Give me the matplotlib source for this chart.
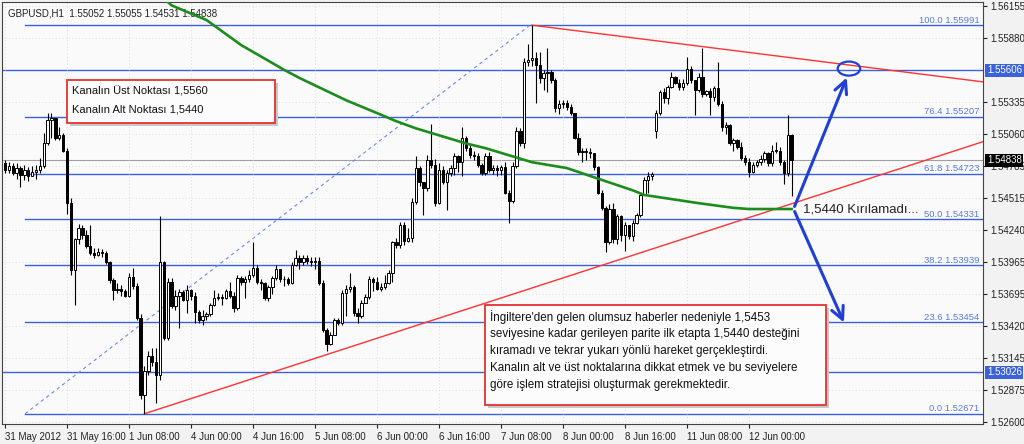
import numpy as np
import matplotlib.pyplot as plt
from matplotlib.patches import Rectangle, Ellipse
from matplotlib.transforms import blended_transform_factory

# GBPUSD H1 bars, prices in pips above 1.5000
close_p = [475, 479, 473, 477, 471, 475, 470, 474, 475, 479,
           498, 518, 520, 503, 505, 492, 447, 390, 416, 426,
           420, 410, 404, 403, 405, 404, 397, 381, 373, 374,
           372, 368, 384, 376, 349, 283, 304, 316, 311, 300,
           397, 332, 380, 359, 368, 371, 364, 373, 368, 354,
           347, 351, 352, 360, 366, 367, 366, 372, 368, 357,
           383, 380, 382, 386, 392, 380, 379, 366, 375, 383,
           391, 382, 382, 379, 394, 400, 397, 400, 398, 397,
           398, 379, 339, 327, 334, 347, 345, 370, 374, 375,
           353, 351, 362, 367, 382, 380, 374, 375, 379, 387,
           414, 411, 428, 415, 417, 448, 477, 465, 460, 484,
           480, 447, 475, 465, 473, 477, 487, 482, 503, 494,
           488, 487, 480, 473, 487, 475, 477, 475, 478, 456,
           449, 479, 509, 498, 568, 569, 571, 565, 554, 558,
           559, 552, 528, 532, 533, 529, 524, 503, 491, 492,
           491, 490, 478, 456, 443, 414, 442, 416, 436, 420,
           428, 419, 430, 437, 454, 467, 470, 472, 524, 542,
           537, 546, 555, 550, 546, 550, 562, 552, 544, 555,
           540, 543, 538, 545, 532, 512, 514, 498, 501, 495,
           486, 482, 474, 480, 482, 485, 490, 481, 492, 492,
           482, 473, 505, 484]
high_p = [484, 482, 481, 481, 479, 480, 478, 479, 480, 486,
          507, 524, 524, 520, 512, 507, 494, 451, 417, 429,
          428, 424, 428, 409, 409, 408, 406, 398, 383, 379,
          377, 374, 387, 392, 379, 352, 308, 321, 323, 323,
          436, 398, 383, 383, 373, 374, 373, 377, 374, 371,
          356, 356, 354, 362, 373, 370, 369, 374, 380, 371,
          386, 385, 385, 390, 414, 394, 382, 380, 377, 385,
          394, 391, 385, 384, 397, 407, 403, 403, 403, 401,
          401, 401, 381, 340, 337, 349, 349, 373, 377, 387,
          377, 357, 364, 369, 385, 384, 384, 379, 386, 390,
          415, 417, 431, 431, 426, 451, 487, 479, 465, 488,
          515, 485, 481, 479, 475, 480, 490, 488, 512, 504,
          497, 492, 490, 481, 490, 491, 480, 480, 480, 482,
          458, 482, 512, 511, 571, 583, 599, 576, 576, 561,
          580, 561, 554, 535, 535, 535, 532, 524, 507, 494,
          494, 494, 490, 479, 458, 445, 446, 447, 438, 437,
          431, 428, 433, 439, 455, 469, 474, 474, 527, 544,
          545, 548, 559, 556, 553, 553, 572, 564, 552, 558,
          580, 544, 545, 547, 568, 534, 516, 515, 503, 502,
          499, 488, 486, 482, 484, 488, 492, 491, 497, 499,
          495, 484, 522, 506]
low_p = [473, 473, 471, 468, 461, 467, 466, 470, 468, 473,
         477, 497, 503, 501, 501, 491, 438, 386, 360, 412,
         416, 409, 403, 400, 402, 401, 395, 379, 364, 370,
         368, 367, 367, 374, 347, 280, 267, 300, 308, 276,
         296, 330, 330, 357, 356, 340, 363, 353, 364, 345,
         345, 343, 347, 351, 359, 364, 360, 365, 366, 354,
         356, 377, 366, 380, 384, 378, 373, 364, 363, 369,
         381, 380, 376, 377, 378, 393, 391, 394, 395, 393,
         391, 377, 337, 321, 326, 334, 343, 343, 351, 371,
         351, 345, 349, 362, 365, 372, 373, 372, 374, 378,
         380, 409, 409, 411, 414, 414, 446, 462, 437, 457,
         477, 445, 446, 463, 441, 470, 471, 474, 470, 492,
         486, 484, 478, 471, 471, 474, 472, 470, 471, 455,
         430, 447, 477, 496, 494, 564, 564, 533, 550, 544,
         542, 550, 525, 523, 528, 527, 522, 502, 488, 482,
         484, 486, 475, 455, 441, 405, 412, 413, 412, 415,
         406, 416, 415, 429, 435, 454, 456, 467, 503, 522,
         533, 532, 545, 549, 544, 544, 548, 550, 522, 542,
         538, 539, 522, 534, 530, 509, 506, 497, 492, 493,
         484, 480, 469, 473, 478, 480, 482, 479, 479, 490,
         480, 463, 470, 453]
first_open = 481
week_open_bar, week_open = 168, 509   # monday gap

# moving average (green), sampled vertices
ma_bar = [40, 43, 52, 61, 72, 76, 88, 96, 101, 106, 110, 119, 124, 132, 136,
          145, 153, 162, 165, 171, 179, 188, 192, 203]
ma_p = [625, 616, 603.5, 582, 561, 554, 535, 524, 517, 511, 507, 498, 494, 486,
        482, 477, 468, 458, 454, 451, 447, 443, 442, 442]

# fibonacci retracement
fib_anchor_bar = [5.2, 135.5]
fib_anchor_px = [1.52671, 1.55991]
fib_pct = [0.0, 23.6, 38.2, 50.0, 61.8, 76.4, 100.0]
fib_px = [1.52671, 1.53454, 1.53939, 1.54331, 1.54723, 1.55207, 1.55991]

# channel lines (red)
up_bar, up_px = [136, 253], [1.55991, 1.55504]
lo_bar, lo_px = [36, 253], [1.52671, 1.55002]

hlines = [1.55606, 1.53026]
bid = 1.54838

ytick_vals = [1.52600, 1.52875, 1.53145, 1.53420, 1.53695, 1.53965, 1.54240,
              1.54515, 1.54785, 1.55060, 1.55335, 1.55880, 1.56155]
xtick_bars = [0, 16, 32, 48, 64, 80, 96, 112, 128, 144, 160, 176, 192]
xtick_labels = ["31 May 2012", "31 May 16:00", "1 Jun 08:00", "4 Jun 00:00",
                "4 Jun 16:00", "5 Jun 08:00", "6 Jun 00:00", "6 Jun 16:00",
                "7 Jun 08:00", "8 Jun 00:00", "8 Jun 16:00", "11 Jun 08:00",
                "12 Jun 00:00"]

arrow_from = (203.5, 1.5442)
arrow_up = (217.5, 1.55565)
arrow_down = (216.8, 1.53429)
circle_at = (217.8, 1.5562)

box1_lines = ["Kanalın Üst Noktası 1,5560", "Kanalın Alt Noktası 1,5440"]
box2_lines = ["İngiltere'den gelen olumsuz haberler nedeniyle 1,5453",
              "seviyesine kadar gerileyen parite ilk etapta 1,5440 desteğini",
              "kıramadı ve tekrar yukarı yönlü hareket gerçekleştirdi.",
              "Kanalın alt ve üst noktalarına dikkat etmek ve bu seviyelere",
              "göre işlem stratejisi oluşturmak gerekmektedir."]

plt.rcParams['font.family'] = ['Liberation Sans', 'DejaVu Sans']

close = 1.5 + np.array(close_p) / 1e4
high = 1.5 + np.array(high_p) / 1e4
low = 1.5 + np.array(low_p) / 1e4
opens = np.r_[1.5 + first_open / 1e4, close[:-1]]
opens[week_open_bar] = 1.5 + week_open / 1e4
bars = np.arange(len(close))

fig = plt.figure(figsize=(10.24, 4.44), dpi=100, facecolor='#f2f2f2')
ax = fig.add_axes([2 / 1024, 20 / 444, 981 / 1024, 422 / 444])
ax.set_facecolor('#fafafa')
ax.set_xlim(-0.77, 252.4)
ax.set_ylim(1.52583, 1.56189)

ax.grid(True, color='#d2d2d2', linestyle=(0, (1, 3)), lw=0.6)

# horizontal levels
for h in hlines:
    ax.axhline(h, color='#3b62d8', lw=1, zorder=1)
ax.axhline(bid, color='#a0a0a0', lw=0.8, zorder=1)

fib_color = '#3b62d8'
for pct, p in zip(fib_pct, fib_px):
    ax.plot([fib_anchor_bar[0], 252.4], [p, p], color=fib_color, lw=1, zorder=1)
    ax.text(251.5, p + 0.00004, f"{pct:.1f} {p:.5f}", color='#5a7ae0',
            fontsize=6.8, ha='right', va='bottom', zorder=2)
ax.plot(fib_anchor_bar, fib_anchor_px, color='#6a8ae8', lw=0.8,
        linestyle=(0, (3, 3)), zorder=1)

# channel
ax.plot(up_bar, up_px, color='#ff3333', lw=1, zorder=2)
ax.plot(lo_bar, lo_px, color='#ff3333', lw=1, zorder=2)

# candles
bull = close >= opens
ax.vlines(bars, low, high, color='black', lw=0.8, zorder=3)
bottom = np.minimum(opens, close)
height = np.maximum(np.abs(close - opens), 0.00002)
ax.bar(bars[bull], height[bull], bottom=bottom[bull], width=0.62,
       color='white', edgecolor='black', lw=0.7, zorder=4)
ax.bar(bars[~bull], height[~bull], bottom=bottom[~bull], width=0.62,
       color='black', edgecolor='black', lw=0.7, zorder=4)

# moving average
ax.plot(ma_bar, 1.5 + np.array(ma_p) / 1e4, color='#1c8c1c', lw=1.9, zorder=5)

# arrows and circle
for tgt in (arrow_up, arrow_down):
    ax.annotate('', xy=tgt, xytext=arrow_from,
                arrowprops=dict(arrowstyle='->,head_length=0.9,head_width=0.45',
                                color='#1f3fd6', lw=2.2), zorder=6)
ax.add_patch(Ellipse(circle_at, 5.8, 0.0012, fill=False, edgecolor='#1f3fd6',
                     lw=1.6, zorder=6))
ax.text(206, 1.5442, "1,5440 Kırılamadı...", fontsize=9.5, color='#222222',
        va='center', ha='left', zorder=6)

# text boxes (axes fraction)
def px(x, y):
    return ((x - 2) / 981, (424 - y) / 422)

def note(x0, y0, x1, y1, lines, tx, ty, dy, size):
    xa, ya = px(x0, y1)
    xb, yb = px(x1, y0)
    sx, sy = px(x0 + 3, y1 + 3)
    ax.add_patch(Rectangle((sx, sy), xb - xa, yb - ya, transform=ax.transAxes,
                           facecolor='#c8c8c8', edgecolor='none', zorder=7))
    ax.add_patch(Rectangle((xa, ya), xb - xa, yb - ya, transform=ax.transAxes,
                           facecolor='#fcfcfc', edgecolor='#e83030', lw=1.3, zorder=8))
    for k, line in enumerate(lines):
        x, y = px(tx, ty + k * dy)
        ax.text(x, y, line, transform=ax.transAxes, fontsize=size,
                va='center', ha='left', color='#111111', zorder=9)

note(67, 80, 275, 123, box1_lines, 72, 91, 18, 8)
note(485, 305, 826, 405, box2_lines, 490, 317, 17, 8.4)

# axes styling
ax.yaxis.tick_right()
ax.set_yticks(ytick_vals)
ax.set_yticklabels([f"{v:.5f}" for v in ytick_vals])
ax.tick_params(axis='y', direction='out', length=3, labelsize=7, pad=2,
               colors='#222222')
ax.set_xticks(xtick_bars)
ax.set_xticklabels(xtick_labels, ha='left')
ax.tick_params(axis='x', direction='out', length=3, labelsize=7, pad=3,
               colors='#222222')
for s in ax.spines.values():
    s.set_color('#444444')
    s.set_linewidth(0.8)

tr = blended_transform_factory(ax.transAxes, ax.transData)
for v, fc in ((1.55606, '#3b62d8'), (bid, 'black'), (1.53026, '#3b62d8')):
    ax.text(1.004, v, f"{v:.5f}", transform=tr, fontsize=7, color='white',
            va='center', ha='left', zorder=10,
            bbox=dict(boxstyle='square,pad=0.15', facecolor=fc, edgecolor='none'))

ax.text(0.006, 0.985, "GBPUSD,H1  1.55052 1.55055 1.54531 1.54838",
        transform=ax.transAxes, fontsize=7, va='top', ha='left', color='#222222')

fig.savefig('out.png', dpi=100, facecolor=fig.get_facecolor())
